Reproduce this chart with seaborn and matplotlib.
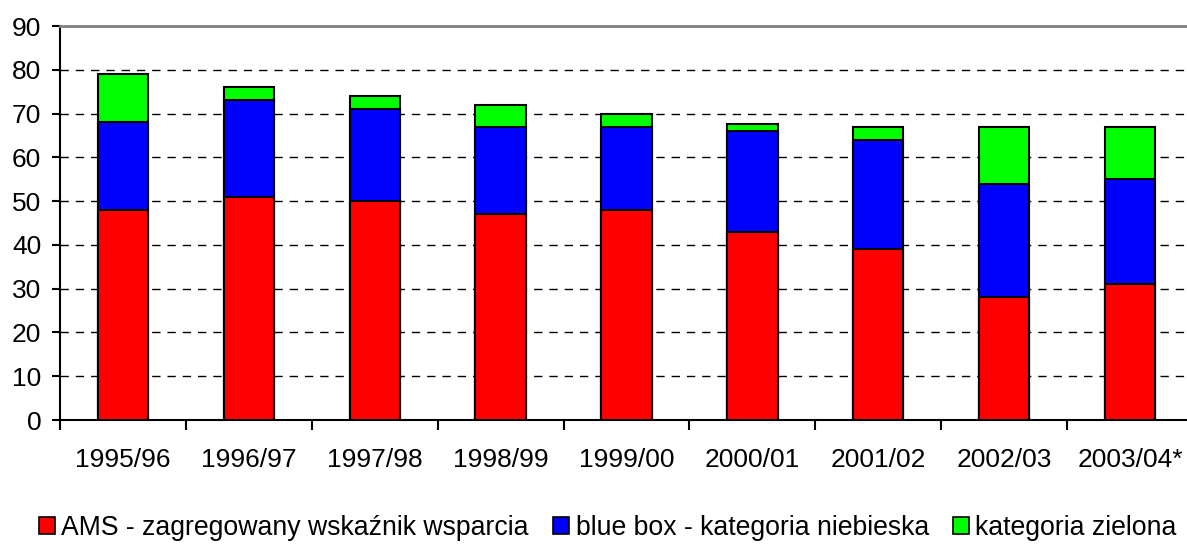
import matplotlib
matplotlib.use("Agg")
import matplotlib.pyplot as plt
import pandas as pd
import seaborn as sns
from matplotlib.patches import Patch

seasons = ["1995/96", "1996/97", "1997/98", "1998/99", "1999/00",
           "2000/01", "2001/02", "2002/03", "2003/04*"]
ams = [48, 51, 50, 47, 48, 43, 39, 28, 31]
blue_box = [20, 22, 21, 20, 19, 23, 25, 26, 24]
green_box = [11, 3, 3, 5, 3, 1.5, 3, 13, 12]
labels = ["AMS - zagregowany wskaźnik wsparcia",
          "blue box - kategoria niebieska",
          "kategoria zielona"]
colors = ["#ff0000", "#0000ff", "#00ff00"]

df = pd.DataFrame({"season": seasons, "ams": ams, "blue": blue_box, "green": green_box})
df["lvl1"] = df["ams"]
df["lvl2"] = df["ams"] + df["blue"]
df["lvl3"] = df["lvl2"] + df["green"]

sns.set_style("white", {"text.color": "black", "xtick.color": "black",
                        "ytick.color": "black", "axes.labelcolor": "black"})
plt.rcParams["font.family"] = ["Liberation Sans", "DejaVu Sans"]

fig = plt.figure(figsize=(11.87, 5.45), dpi=100)
ax = fig.add_axes([60 / 1187, 1 - 420 / 545, (1193 - 60) / 1187, (420 - 26) / 545])

# stacked bars: draw cumulative totals from the top layer down
for col, c in zip(["lvl3", "lvl2", "lvl1"], colors[::-1]):
    sns.barplot(data=df, x="season", y=col, color=c, width=0.4, saturation=1,
                edgecolor="black", linewidth=1.5, ax=ax, zorder=3)

ax.set_ylim(0, 90)
ax.set_xlim(-0.5, len(seasons) - 0.5)
ax.set_yticks(range(0, 91, 10))
ax.set_xlabel("")
ax.set_ylabel("")

for y in range(10, 90, 10):
    ax.axhline(y, color="black", linestyle=(0, (6, 5)), linewidth=1, zorder=1)

for s in ["left", "bottom"]:
    ax.spines[s].set_color("black")
    ax.spines[s].set_linewidth(1.5)
ax.spines["top"].set_color("#808080")
ax.spines["top"].set_linewidth(2)
ax.spines["right"].set_visible(False)

ax.tick_params(axis="y", which="major", direction="out", length=6, width=1.5,
               labelsize=19, pad=7.5, left=True, colors="black")
ax.tick_params(axis="x", which="major", length=0, labelsize=19, pad=20, colors="black")
ax.set_xticks([i + 0.5 for i in range(-1, len(seasons))], minor=True)
ax.tick_params(axis="x", which="minor", direction="out", length=7, width=1.5,
               bottom=True, colors="black")

handles = [Patch(facecolor=c, edgecolor="black", linewidth=1.2) for c in colors]
fig.legend(handles, labels, loc="lower center", bbox_to_anchor=(0.512, -0.036), ncol=3,
           frameon=False, fontsize=19.2, handlelength=0.6, handleheight=0.6,
           handletextpad=0.25, columnspacing=0.9, labelcolor="black")

fig.savefig("out.png", dpi=100)
